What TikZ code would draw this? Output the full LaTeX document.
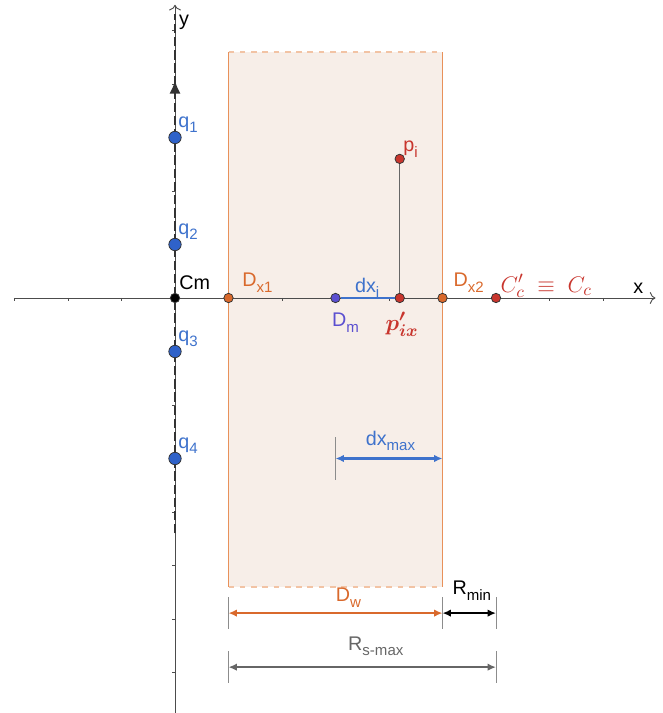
\documentclass[tikz,border=0pt]{standalone}
\usepackage{fontspec}
\setmainfont{Liberation Sans}
\usepackage{bm}
\usetikzlibrary{arrows.meta, positioning, calc, decorations.markings}

\definecolor{qblue}{HTML}{2F62C9}
\definecolor{lblue}{HTML}{3E72CC}
\definecolor{worange}{HTML}{E8915A}
\definecolor{lorange}{HTML}{D9692C}
\definecolor{pred}{HTML}{C8352D}
\definecolor{mpurple}{HTML}{5B4FD0}
\definecolor{wfill}{HTML}{F7EEE8}

% lowered sans subscript
\newcommand{\lo}[1]{\raisebox{-3pt}{\fontsize{8}{9}\selectfont #1}}

\begin{document}
\begin{tikzpicture}[
    font=\fontsize{10.5}{12}\selectfont,
    pt/.style={circle, draw=black!80, line width=0.4pt, inner sep=0pt, minimum size=5pt},
    qpt/.style={pt, fill=qblue, minimum size=6.6pt},
    axis/.style={line width=0.5pt, color=black!70},
    dim/.style={{Latex[length=4.5pt,width=4pt]}-{Latex[length=4.5pt,width=4pt]}, line width=1.3pt},
    ext/.style={line width=0.5pt, color=black!45},
    lab/.style={anchor=base west, inner sep=0pt},
    mlab/.style={anchor=base west, inner sep=0pt, font=\fontsize{12.5}{14}\selectfont}
]
    \useasboundingbox (-3.271,-7.757) rectangle (9.103,5.570);

    % Window: D_x1 .. D_x2
    \coordinate (wbl) at (1,-5.4);
    \coordinate (wtl) at (1,4.6);
    \coordinate (wbr) at (5,-5.4);
    \coordinate (wtr) at (5,4.6);
    \fill[wfill] (wbl) rectangle (wtr);
    \draw[worange!55, dashed, line width=0.7pt] (wtl) -- (wtr);
    \draw[worange!55, dashed, line width=0.7pt] (wbl) -- (wbr);
    \draw[worange, line width=0.95pt] (wbl) -- (wtl);
    \draw[worange, line width=0.95pt] (wbr) -- (wtr);

    % Axes
    \coordinate (xl) at (-3.01,0);
    \coordinate (xr) at (8.98,0);
    \coordinate (yb) at (0,-7.757);
    \coordinate (yt) at (0,5.48);
    \draw[axis, -{To[length=3pt]}] (xl) -- (xr);
    \draw[axis, -{To[length=3pt]}] (yb) -- (yt);
    \foreach \i in {-3,...,8} \draw[axis] (\i,0) -- (\i,-0.05);
    \foreach \j in {-7,...,5} \draw[axis] (0,\j) -- (-0.05,\j);
    \node[lab] (xlab) at (8.56,0.09) {x};
    \node[lab] (ylab) at (0.07,5.1) {y};

    % Dashed line of the q's
    \coordinate (dbot) at (0,-4.4);
    \coordinate (dtop) at (0,5.3);
    \draw[black!80, line width=1.3pt, dash pattern=on 5pt off 2pt,
        postaction={decorate},
        decoration={markings, mark=at position 0.873 with {\arrow{Latex[length=7pt,width=6pt]}}}]
        (dbot) -- (dtop);

    % Points
    \node[pt, fill=black] (Cm) at (0,0) {};
    \node[pt, fill=lorange] (Dx1) at (1,0) {};
    \node[pt, fill=mpurple] (Dm) at (3,0) {};
    \node[pt, fill=pred] (pix) at (4.2,0) {};
    \node[pt, fill=lorange] (Dx2) at (5,0) {};
    \node[pt, fill=pred] (Cc) at (6,0) {};
    \node[pt, fill=pred] (pi) at (4.2,2.6) {};
    \node[qpt] (q1) at (0,3) {};
    \node[qpt] (q2) at (0,1) {};
    \node[qpt] (q3) at (0,-1) {};
    \node[qpt] (q4) at (0,-3) {};

    % Projection and dx_i
    \draw[ext, color=black!60] (pi) -- (pix);
    \draw[lblue, line width=1.3pt] (Dm) -- (pix);

    % Labels of the points
    \node[lab] (CmL) at (0.075,0.168) {Cm};
    \node[lab, text=lorange] (Dx1L) at (1.25,0.21) {D\lo{x1}};
    \node[lab, text=lorange] (Dx2L) at (5.2,0.21) {D\lo{x2}};
    \node[lab, text=mpurple] (DmL) at (2.93,-0.54) {D\lo{m}};
    \node[lab, text=pred] (piL) at (4.26,2.73) {p\lo{i}};
    \node[lab, text=lblue] (dxiL) at (3.36,0.11) {dx\lo{i}};
    \node[mlab, text=pred] (pixL) at (3.93,-0.6) {$\bm{p'_{ix}}$};
    \node[mlab, text=pred] (CcL) at (6.08,0.11) {$C'_c\;\equiv\;C_c$};
    \node[lab, text=lblue] (q1L) at (0.056,3.19) {q\lo{1}};
    \node[lab, text=lblue] (q2L) at (0.056,1.19) {q\lo{2}};
    \node[lab, text=lblue] (q3L) at (0.056,-0.81) {q\lo{3}};
    \node[lab, text=lblue] (q4L) at (0.056,-2.81) {q\lo{4}};

    % dx_max
    \coordinate (mA) at (3,-3);
    \coordinate (mB) at (5,-3);
    \draw[ext] ($(mA)+(0,0.4)$) -- ($(mA)+(0,-0.4)$);
    \draw[dim, lblue] (mA) -- (mB);
    \node[lab, text=lblue] (dxmaxL) at (3.56,-2.75) {dx\lo{max}};

    % D_w, R_min, R_s-max
    \coordinate (wA) at (1,-5.89);
    \coordinate (wB) at (5,-5.89);
    \coordinate (rB) at (6,-5.89);
    \coordinate (sA) at (1,-6.9);
    \coordinate (sB) at (6,-6.9);
    \draw[ext] ($(wA)+(0,0.3)$) -- ($(wA)+(0,-0.3)$);
    \draw[ext] ($(wB)+(0,0.3)$) -- ($(wB)+(0,-0.3)$);
    \draw[ext] ($(rB)+(0,0.3)$) -- ($(rB)+(0,-0.3)$);
    \draw[ext] ($(sA)+(0,0.3)$) -- ($(sA)+(0,-0.3)$);
    \draw[ext] ($(sB)+(0,0.3)$) -- ($(sB)+(0,-0.3)$);
    \draw[dim, lorange] (wA) -- (wB);
    \draw[dim, black] (wB) -- (rB);
    \draw[dim, black!60] (sA) -- (sB);
    \node[lab, text=lorange] (DwL) at (3.0,-5.68) {D\lo{w}};
    \node[lab] (RminL) at (5.18,-5.55) {R\lo{min}};
    \node[lab, text=black!60] (RsL) at (3.23,-6.58) {R\lo{s-max}};
\end{tikzpicture}
\end{document}
